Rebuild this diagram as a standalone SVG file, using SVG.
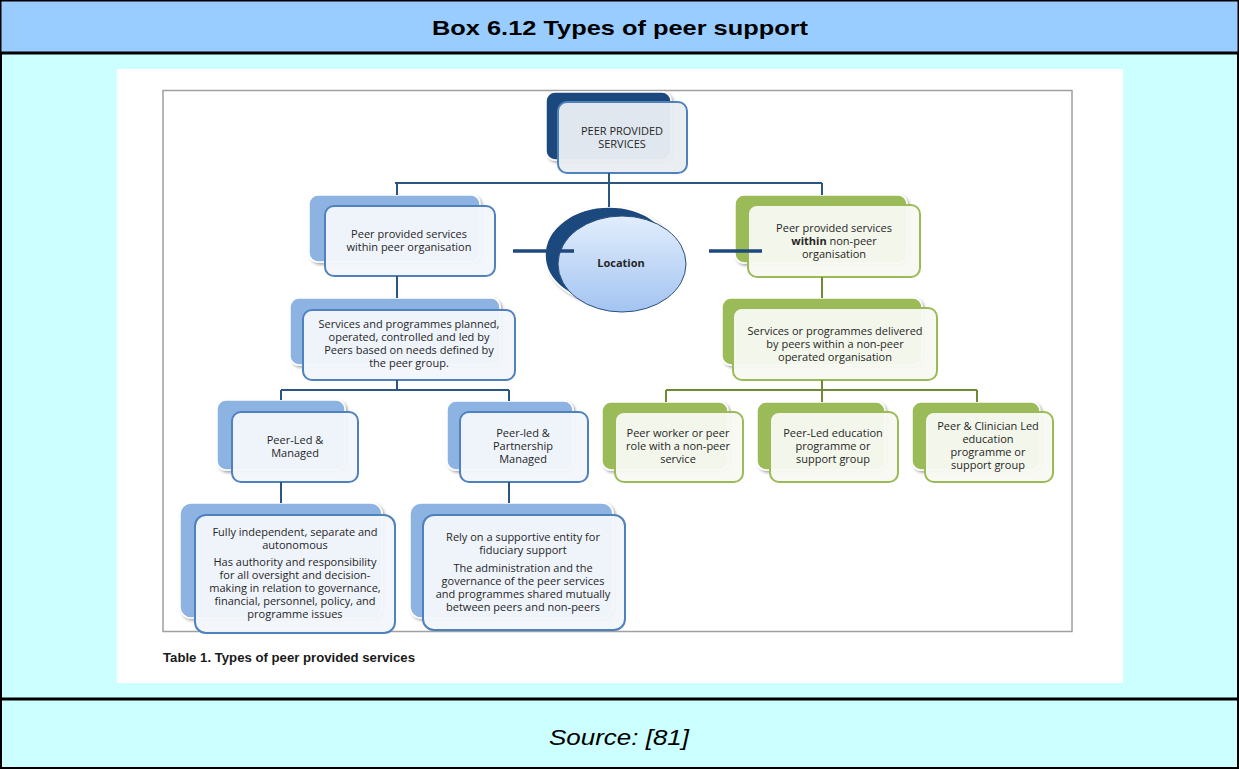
<svg xmlns="http://www.w3.org/2000/svg" width="1239" height="769" viewBox="0 0 1239 769">
<defs>
<style>
.bb{fill:#8DB3E2;stroke:#fff;stroke-width:1.5;filter:url(#sh)}
.bn{fill:#1F497D;stroke:#fff;stroke-width:1.5;filter:url(#sh)}
.bg{fill:#9BBB59;stroke:#fff;stroke-width:1.5;filter:url(#sh)}
.fb{fill:#F3F7FC;fill-opacity:0.96;stroke:#4F81BD;stroke-width:2}
.fg{fill:#F7F9F1;fill-opacity:0.96;stroke:#9BBB59;stroke-width:2}
.t{font-family:"Open Sans","Liberation Sans",sans-serif;font-size:11px;fill:#262626;text-anchor:middle}
.cb{fill:none;stroke:#2B5683;stroke-width:2}
.cg{fill:none;stroke:#6F8A35;stroke-width:2}
.ct{fill:none;stroke:#1F497D;stroke-width:3.5}
</style>
<filter id="sh" x="-10%" y="-10%" width="130%" height="130%">
<feDropShadow dx="2" dy="2" stdDeviation="1.5" flood-color="#000" flood-opacity="0.35"/>
</filter>
<linearGradient id="eg" x1="0" y1="0" x2="0" y2="1">
<stop offset="0" stop-color="#E2EDFC"/>
<stop offset="1" stop-color="#A3C4F2"/>
</linearGradient>
</defs>

<g id="frame">
<rect x="1" y="1" width="1237" height="767" fill="#CCFFFF" stroke="#000" stroke-width="2"/>
<rect x="1" y="1" width="1237" height="51.5" fill="#99CCFF"/>
<line x1="0" y1="53" x2="1239" y2="53" stroke="#000" stroke-width="3"/>
<line x1="0" y1="699" x2="1239" y2="699" stroke="#000" stroke-width="3"/>
<rect x="0" y="0" width="1239" height="769" fill="none" stroke="#000" stroke-width="3"/>
<text x="620" y="35" text-anchor="middle" font-family="'Liberation Sans',sans-serif" font-weight="bold" font-size="21" textLength="376" lengthAdjust="spacingAndGlyphs" fill="#000">Box 6.12 Types of peer support</text>
<text x="619" y="745" text-anchor="middle" font-family="'Liberation Sans',sans-serif" font-style="italic" font-size="22" textLength="140" lengthAdjust="spacingAndGlyphs" fill="#000">Source: [81]</text>
<rect x="117" y="69" width="1006" height="614" fill="#FFFFFF"/>
<rect x="163" y="90.5" width="909" height="541" fill="none" stroke="#A0A0A0" stroke-width="1.5"/>
<text x="163" y="662" font-family="'Liberation Sans',sans-serif" font-weight="bold" font-size="12" textLength="252" lengthAdjust="spacingAndGlyphs" fill="#1a1a1a">Table 1. Types of peer provided services</text>
</g>

<g id="top-node">
<rect class="bn" x="546" y="92" width="125" height="68" rx="9"/>
<rect class="fb" x="558" y="102" width="129" height="71" rx="9" style="fill:#E9EDF3"/>
<text class="t" x="622" y="135">PEER PROVIDED</text>
<text class="t" x="622" y="148">SERVICES</text>
</g>

<g id="location">
<ellipse cx="609" cy="255" rx="64" ry="48" fill="#1F497D" stroke="#fff" stroke-width="1.5" filter="url(#sh)"/>
<ellipse cx="622" cy="264" rx="64" ry="48" fill="url(#eg)" stroke="#2B4E7A" stroke-width="1"/>
<text class="t" x="621" y="267" font-weight="bold">Location</text>
</g>

<g id="left-org">
<rect class="bb" x="309" y="195" width="171" height="67" rx="9"/>
<rect class="fb" x="325" y="206" width="170" height="70" rx="9"/>
<text class="t" x="409" y="238">Peer provided services</text>
<text class="t" x="409" y="251">within peer organisation</text>
</g>

<g id="right-org">
<rect class="bg" x="735" y="195" width="172" height="68" rx="9"/>
<rect class="fg" x="748" y="205" width="172" height="72" rx="9"/>
<text class="t" x="834" y="232">Peer provided services</text>
<text class="t" x="834" y="245"><tspan font-weight="bold">within</tspan> non-peer</text>
<text class="t" x="834" y="258">organisation</text>
</g>

<g id="left-services">
<rect class="bb" x="290" y="298" width="210" height="67" rx="9"/>
<rect class="fb" x="303" y="310" width="212" height="70" rx="9"/>
<text class="t" x="409" y="328">Services and programmes planned,</text>
<text class="t" x="409" y="341">operated, controlled and led by</text>
<text class="t" x="409" y="354">Peers based on needs defined by</text>
<text class="t" x="409" y="367">the peer group.</text>
</g>

<g id="right-services">
<rect class="bg" x="722" y="298" width="200" height="67" rx="9"/>
<rect class="fg" x="733" y="308" width="204" height="72" rx="9"/>
<text class="t" x="835" y="335">Services or programmes delivered</text>
<text class="t" x="835" y="348">by peers within a non-peer</text>
<text class="t" x="835" y="361">operated organisation</text>
</g>

<g id="peer-led-managed">
<rect class="bb" x="217" y="400" width="128" height="70" rx="9"/>
<rect class="fb" x="232" y="412" width="126" height="70" rx="9"/>
<text class="t" x="295" y="444">Peer-Led &amp;</text>
<text class="t" x="295" y="457">Managed</text>
</g>

<g id="peer-led-partnership">
<rect class="bb" x="447" y="401" width="126" height="69" rx="9"/>
<rect class="fb" x="460" y="412" width="128" height="70" rx="9"/>
<text class="t" x="523" y="437">Peer-led &amp;</text>
<text class="t" x="523" y="450">Partnership</text>
<text class="t" x="523" y="463">Managed</text>
</g>

<g id="peer-worker">
<rect class="bg" x="602" y="402" width="126" height="68" rx="9"/>
<rect class="fg" x="615" y="412" width="128" height="70" rx="9"/>
<text class="t" x="678" y="437">Peer worker or peer</text>
<text class="t" x="678" y="450">role with a non-peer</text>
<text class="t" x="678" y="463">service</text>
</g>

<g id="peer-led-education">
<rect class="bg" x="757" y="402" width="128" height="68" rx="9"/>
<rect class="fg" x="770" y="412" width="128" height="70" rx="9"/>
<text class="t" x="833" y="437">Peer-Led education</text>
<text class="t" x="833" y="450">programme or</text>
<text class="t" x="833" y="463">support group</text>
</g>

<g id="peer-clinician">
<rect class="bg" x="912" y="402" width="128" height="68" rx="9"/>
<rect class="fg" x="925" y="412" width="128" height="70" rx="9"/>
<text class="t" x="988" y="430">Peer &amp; Clinician Led</text>
<text class="t" x="988" y="443">education</text>
<text class="t" x="988" y="456">programme or</text>
<text class="t" x="988" y="469">support group</text>
</g>

<g id="fully-independent">
<rect class="bb" x="180" y="503" width="202" height="115" rx="11"/>
<rect class="fb" x="195" y="515" width="200" height="118" rx="11"/>
<text class="t" x="295" y="536">Fully independent, separate and</text>
<text class="t" x="295" y="549">autonomous</text>
<text class="t" x="295" y="566">Has authority and responsibility</text>
<text class="t" x="295" y="579">for all oversight and decision-</text>
<text class="t" x="295" y="592">making in relation to governance,</text>
<text class="t" x="295" y="605">financial, personnel, policy, and</text>
<text class="t" x="295" y="618">programme issues</text>
</g>

<g id="rely-supportive">
<rect class="bb" x="410" y="503" width="203" height="115" rx="11"/>
<rect class="fb" x="423" y="515" width="202" height="115" rx="11"/>
<text class="t" x="523" y="541">Rely on a supportive entity for</text>
<text class="t" x="523" y="554">fiduciary support</text>
<text class="t" x="523" y="572">The administration and the</text>
<text class="t" x="523" y="585">governance of the peer services</text>
<text class="t" x="523" y="598">and programmes shared mutually</text>
<text class="t" x="523" y="611">between peers and non-peers</text>
</g>

<g id="connectors">
<path class="cb" d="M609 173 V207 M395 183 H822 M397 183 V195 M822 183 V195 M397 276 V298 M397 380 V390 M281 390 H509 M281 390 V400 M509 390 V401 M281 482 V503 M509 482 V503"/>
<path class="cg" d="M822 277 V298 M822 380 V402 M666 390 H977 M666 390 V402 M977 390 V402"/>
<path class="ct" d="M513 251 H574 M709 251 H762"/>
</g>
</svg>
